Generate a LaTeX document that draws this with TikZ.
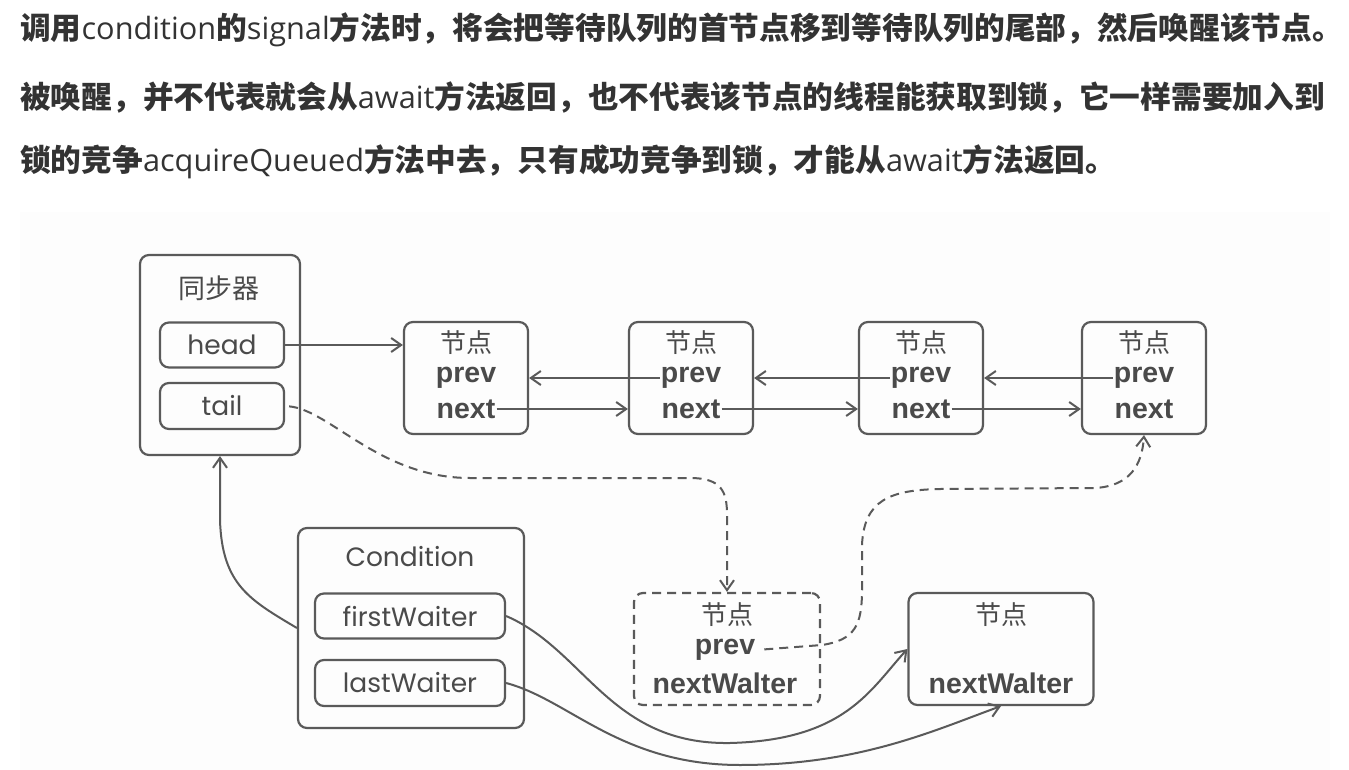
\documentclass[tikz,border=0pt]{standalone}
\usepackage{fontspec}
\setmainfont{Open Sans}
\newfontfamily\cjk{Noto Sans CJK SC}
\newfontfamily\geo{Poppins}
\newfontfamily\arialb{Liberation Sans}
\usepackage{xcolor}
\definecolor{txtdark}{HTML}{333333}
\definecolor{linegray}{HTML}{5A5A5A}
\definecolor{labgray}{HTML}{4A4A4A}
\definecolor{bgfaint}{HTML}{FDFDFD}
\usetikzlibrary{arrows.meta,positioning,calc}
\newcommand{\zh}[1]{{\cjk\bfseries #1}}

\begin{document}
\begin{tikzpicture}[x=1pt, y=-1pt,
  intro/.style={anchor=west, inner sep=0pt, font=\fontsize{30.7}{36}\selectfont, text=txtdark},
  obox/.style={rectangle, rounded corners=9pt, draw=linegray, line width=2.2pt},
  fbox/.style={rectangle, rounded corners=9pt, draw=linegray, line width=2.2pt,
               font=\geo\fontsize{26.5}{30}\selectfont, text=labgray, inner sep=0pt},
  qbox/.style={rectangle, rounded corners=9pt, draw=linegray, line width=2.2pt,
               minimum width=124, minimum height=112},
  ztxt/.style={font=\cjk\fontsize{26}{30}\selectfont, text=labgray, inner sep=1pt},
  btxt/.style={font=\arialb\bfseries\fontsize{28.5}{30}\selectfont, text=labgray, inner sep=1pt},
  parr/.style={-{Straight Barb[length=10pt,width=14pt]}, draw=linegray, line width=2pt},
  darr/.style={parr, dash pattern=on 9pt off 6pt}
]
\useasboundingbox (0,0) rectangle (1349,770);
\fill[bgfaint] (20,212) rectangle (1330,770);

% Text above the figure
\node[intro] (l1) at (20,30) {\zh{调用}condition\zh{的}signal\zh{方法时，将会把等待队列的首节点移到等待队列的尾部，然后唤醒该节点。}};
\node[intro] (l2) at (20,97) {\zh{被唤醒，并不代表就会从}await\zh{方法返回，也不代表该节点的线程能获取到锁，它一样需要加入到}};
\node[intro] (l3) at (20,162) {\zh{锁的竞争}acquireQueued\zh{方法中去，只有成功竞争到锁，才能从}await\zh{方法返回。}};

% Synchronizer
\node[obox, minimum width=160, minimum height=200] (sync) at (220,355) {};
\node[ztxt, font=\cjk\fontsize{27}{30}\selectfont] (syncT) at (219,288) {同步器};
\node[fbox, minimum width=124, minimum height=45] (head) at (222,345) {head};
\node[fbox, minimum width=124, minimum height=46] (tail) at (222,406) {tail};

% Sync queue
\node[qbox] (n1) at (466,378) {};
\node[qbox] (n2) at (691,378) {};
\node[qbox] (n3) at (921,378) {};
\node[qbox] (n4) at (1144,378) {};
\node[ztxt] (n1t) at (466,343) {节点};
\node[ztxt] (n2t) at (691,343) {节点};
\node[ztxt] (n3t) at (921,343) {节点};
\node[ztxt] (n4t) at (1144,343) {节点};
\node[btxt] (n1p) at (466,378) {prev};
\node[btxt] (n2p) at (691,378) {prev};
\node[btxt] (n3p) at (921,378) {prev};
\node[btxt] (n4p) at (1144,378) {prev};
\node[btxt] (n1n) at (466,409) {next};
\node[btxt] (n2n) at (691,409) {next};
\node[btxt] (n3n) at (921,409) {next};
\node[btxt] (n4n) at (1144,409) {next};

% Condition
\node[obox, minimum width=226, minimum height=200] (cond) at (411,628) {};
\node[fbox, draw=none] (condT) at (410,557) {Condition};
\node[fbox, minimum width=190, minimum height=45] (first) at (410,616) {firstWaiter};
\node[fbox, minimum width=190, minimum height=46] (last) at (410,683) {lastWaiter};

% Waiting nodes
\node[qbox, dash pattern=on 9pt off 6pt, minimum width=186] (w1) at (727,649) {};
\node[ztxt] (w1t) at (727,615) {节点};
\node[btxt] (w1p) at (725,650) {prev};
\node[btxt] (w1n) at (725,683) {nextWalter};
\node[qbox, minimum width=185] (w2) at (1001,649) {};
\node[ztxt] (w2t) at (1001,615) {节点};
\node[btxt] (w2n) at (1001,683) {nextWalter};

% Arrows
\draw[parr] (head.east) -- (n1.west |- head.east);
\draw[parr] (n1n.east) -- (n2.west |- n1n.east);
\draw[parr] (n2n.east) -- (n3.west |- n2n.east);
\draw[parr] (n3n.east) -- (n4.west |- n3n.east);
\draw[parr] (n2p.west) -- (n1.east |- n2p.west);
\draw[parr] (n3p.west) -- (n2.east |- n3p.west);
\draw[parr] (n4p.west) -- (n3.east |- n4p.west);
\draw[darr, shorten <=4pt] (tail.east) .. controls (330,410) and (380,478) .. (470,478) -- (690,478)
  .. controls (722,478) and (727,492) .. (727,515) -- (w1.north);
\draw[darr, shorten <=8pt] (w1p.east) -- (822,645) .. controls (855,640) and (862,625) .. (862,590) -- (862,545)
  .. controls (864,500) and (890,490) .. (940,489) -- (1095,488)
  .. controls (1130,486) and (1142,465) .. (n4.south);
\draw[parr] (cond.west) .. controls (250,600) and (222,585) .. (220,520) -- (sync.south);
\draw[parr] (first.east) .. controls (585,650) and (610,745) .. (730,743)
  .. controls (845,740) and (870,690) .. (w2.west);
\draw[parr] (last.east) .. controls (570,700) and (620,765) .. (740,765)
  .. controls (860,765) and (935,730) .. (w2.south);
\end{tikzpicture}
\end{document}
